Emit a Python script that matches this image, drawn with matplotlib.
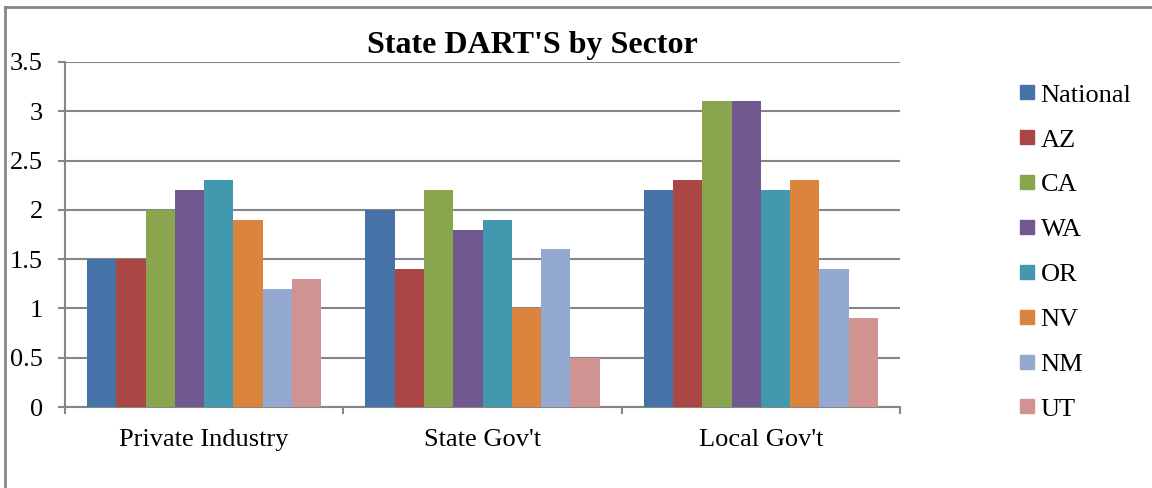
import numpy as np
import matplotlib
matplotlib.use("Agg")
import matplotlib.pyplot as plt
from matplotlib.lines import Line2D

sectors = ["Private Industry", "State Gov't", "Local Gov't"]
states = ["National", "AZ", "CA", "WA", "OR", "NV", "NM", "UT"]
national = [1.5, 2.0, 2.2]
az = [1.5, 1.4, 2.3]
ca = [2.0, 2.2, 3.1]
wa = [2.2, 1.8, 3.1]
or_ = [2.3, 1.9, 2.2]
nv = [1.9, 1.0, 2.3]
nm = [1.2, 1.6, 1.4]
ut = [1.3, 0.5, 0.9]
series = [national, az, ca, wa, or_, nv, nm, ut]
colors = ["#4572A7", "#AA4643", "#89A54E", "#71588F",
          "#4198AF", "#DB843D", "#93A9CF", "#D19392"]

plt.rcParams["font.family"] = ["Liberation Serif", "DejaVu Serif"]

W, H = 1152, 488
fig = plt.figure(figsize=(W / 100, H / 100), dpi=100)
ax = fig.add_axes([65 / W, 1 - 407 / H, (900 - 65) / W, (407 - 62) / H])

grid = "#868686"
bw = 1 / 9.5
x = np.arange(len(sectors))
for k, (vals, c) in enumerate(zip(series, colors)):
    ax.bar(x + (k - 3.5) * bw, vals, width=bw, color=c, label=states[k], zorder=3)

ax.set_xlim(-0.5, 2.5)
ax.set_ylim(0, 3.5)
ax.set_yticks(np.arange(0, 3.51, 0.5))
ax.set_yticklabels(["0", "0.5", "1", "1.5", "2", "2.5", "3", "3.5"])
ax.yaxis.grid(True, color=grid, linewidth=1.5, zorder=0)
ax.set_axisbelow(True)
for s in ["top", "right"]:
    ax.spines[s].set_visible(False)
for s in ["left", "bottom"]:
    ax.spines[s].set_color(grid)
    ax.spines[s].set_linewidth(1.5)

ax.set_xticks([-0.5, 0.5, 1.5, 2.5])
ax.set_xticklabels([])
ax.set_xticks(x, minor=True)
ax.set_xticklabels(sectors, minor=True, fontsize=19)
ax.tick_params(axis="x", which="major", length=5, color=grid, width=1.5)
ax.tick_params(axis="x", which="minor", length=0, pad=16)
ax.tick_params(axis="y", length=5, color=grid, width=1.5, labelsize=19, pad=11)

fig.text(532 / W, 1 - 46 / H, "State DART'S by Sector", ha="center", va="center",
         fontsize=23, fontweight="bold")

handles = [Line2D([], [], marker="s", linestyle="none", markersize=10,
                  markerfacecolor=c, markeredgecolor=c) for c in colors]
fig.legend(handles, states, loc="upper left", bbox_to_anchor=(1005 / W, 1 - 70 / H),
           frameon=False, fontsize=19, handlelength=0.7, handletextpad=0.15,
           labelspacing=0.81, borderpad=0)

# partial chart border
fig.add_artist(Line2D([5 / W, 5 / W], [0, 1 - 7 / H], transform=fig.transFigure,
                      color=grid, linewidth=2))
fig.add_artist(Line2D([5 / W, 1], [1 - 7 / H, 1 - 7 / H], transform=fig.transFigure,
                      color=grid, linewidth=2))

fig.savefig("out.png", dpi=100)
